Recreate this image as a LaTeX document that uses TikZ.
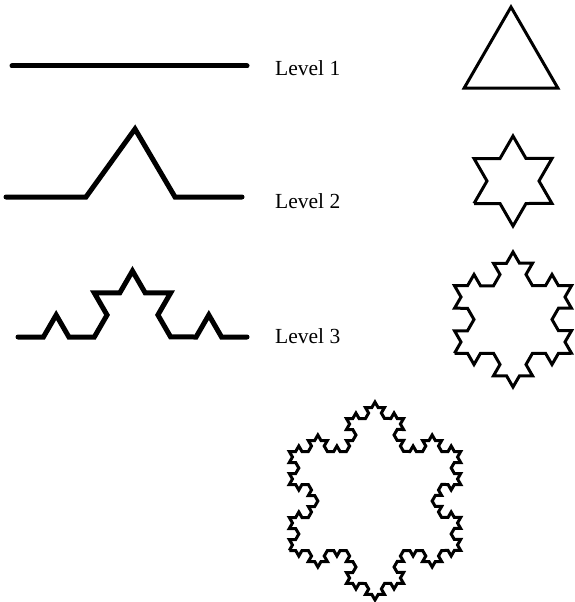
\documentclass[tikz,border=0pt]{standalone}
\usepackage{fontspec}
\setmainfont{Liberation Serif}
\usepackage{tikz}
\usetikzlibrary{decorations.fractals}

\begin{document}
\begin{tikzpicture}[x=1pt, y=-1pt, line join=miter,
    curve/.style={line width=5pt, line cap=round},
    flake/.style={line width=3pt},
    lvl/.style={anchor=base west, inner sep=0pt, font=\fontsize{21.5}{24}\selectfont},
    decoration={Koch snowflake}]
  \useasboundingbox (0,0) rectangle (574,602);
  % the three curves, one more step each
  \draw[curve] (12,66) -- (247,66);
  \draw[curve] (6,197) -- (86,197) -- (135,129) -- (175,197) -- (242,197);
  \draw[curve] decorate{ decorate{ (18,337) -- (247,337) } };
  \node[lvl] (lvlone) at (275,75) {Level 1};
  \node[lvl] (lvltwo) at (275,208) {Level 2};
  \node[lvl] (lvlthree) at (275,343) {Level 3};
  % snowflakes, centre and outer radius
  \draw[flake, shift={(511,61)}] (-46.8,27) -- (0,-54) -- (46.8,27) -- cycle;
  \draw[flake, shift={(513,181)}] decorate{ (-39,22.5) -- (0,-45) -- (39,22.5) -- cycle };
  \draw[flake, shift={(513,319.5)}] decorate{ decorate{ (-58.5,33.75) -- (0,-67.5) -- (58.5,33.75) -- cycle } };
  \draw[flake, shift={(375,501)}] decorate{ decorate{ decorate{ (-85.7,49.5) -- (0,-99) -- (85.7,49.5) -- cycle } } };
\end{tikzpicture}
\end{document}
